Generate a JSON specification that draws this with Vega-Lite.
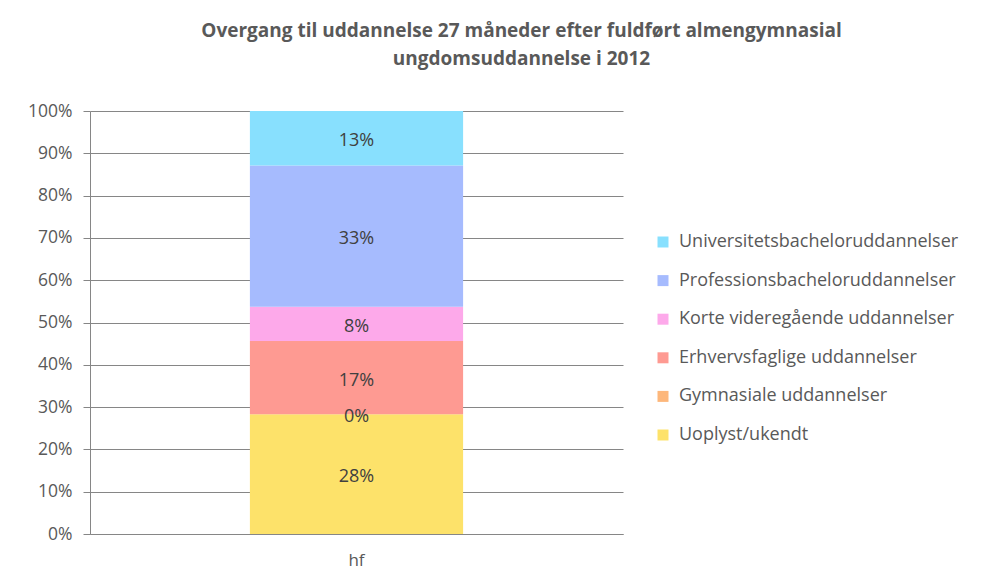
{
  "$schema": "https://vega.github.io/schema/vega-lite/v6.json",
  "autosize": "none",
  "width": 533,
  "height": 423,
  "padding": {"left": 90, "top": 111, "right": 360, "bottom": 49},
  "background": "white",
  "title": {
    "text": ["Overgang til uddannelse 27 måneder efter fuldført  almengymnasial", "ungdomsuddannelse i 2012"],
    "anchor": "middle",
    "frame": "group",
    "dx": 165,
    "offset": 33,
    "font": "Open Sans",
    "fontSize": 19,
    "fontWeight": "bold",
    "color": "#595959",
    "lineHeight": 28
  },
  "data": {
    "values": [
      {"uddannelse": "hf", "kategori": "Uoplyst/ukendt", "rank": 1, "andel": 0.283},
      {"uddannelse": "hf", "kategori": "Gymnasiale uddannelser", "rank": 2, "andel": 0.0},
      {"uddannelse": "hf", "kategori": "Erhvervsfaglige uddannelser", "rank": 3, "andel": 0.173},
      {"uddannelse": "hf", "kategori": "Korte videregående uddannelser", "rank": 4, "andel": 0.081},
      {"uddannelse": "hf", "kategori": "Professionsbacheloruddannelser", "rank": 5, "andel": 0.334},
      {"uddannelse": "hf", "kategori": "Universitetsbacheloruddannelser", "rank": 6, "andel": 0.129}
    ]
  },
  "encoding": {
    "x": {
      "field": "uddannelse",
      "type": "nominal",
      "title": null,
      "scale": {"paddingInner": 0, "paddingOuter": 0.75},
      "axis": {
        "labelAngle": 0,
        "labelFont": "Open Sans",
        "labelFontSize": 17,
        "labelColor": "#595959",
        "ticks": false,
        "labelPadding": 18,
        "domainColor": "#868686",
        "domainWidth": 1
      }
    }
  },
  "layer": [
    {
      "mark": {"type": "bar", "stroke": null},
      "encoding": {
        "y": {
          "field": "andel",
          "type": "quantitative",
          "stack": "zero",
          "title": null,
          "scale": {"domain": [0, 1], "nice": false},
          "axis": {
            "values": [0, 0.1, 0.2, 0.3, 0.4, 0.5, 0.6, 0.7, 0.8, 0.9, 1],
            "format": ".0%",
            "labelFont": "Open Sans",
            "labelFontSize": 17.5,
            "labelColor": "#595959",
            "labelPadding": 11,
            "tickSize": 7,
            "tickColor": "#868686",
            "gridColor": "#868686",
            "gridWidth": 1,
            "domainColor": "#868686"
          }
        },
        "color": {
          "field": "kategori",
          "type": "nominal",
          "title": null,
          "scale": {
            "domain": ["Universitetsbacheloruddannelser", "Professionsbacheloruddannelser", "Korte videregående uddannelser", "Erhvervsfaglige uddannelser", "Gymnasiale uddannelser", "Uoplyst/ukendt"],
            "range": ["#88E0FE", "#A6BBFE", "#FDA9EA", "#FE9A92", "#FDB77B", "#FDE26A"]
          },
          "legend": {
            "orient": "none",
            "legendX": 564,
            "legendY": 122,
            "symbolType": "square",
            "symbolSize": 121,
            "symbolStrokeWidth": 0,
            "labelFont": "Open Sans",
            "labelFontSize": 18,
            "labelColor": "#595959",
            "rowPadding": 20.6,
            "labelOffset": 7,
            "labelLimit": 400
          }
        },
        "order": {"field": "rank", "type": "quantitative"}
      }
    },
    {
      "transform": [
        {"stack": "andel", "groupby": ["uddannelse"], "sort": [{"field": "rank", "order": "ascending"}], "as": ["a0", "a1"]},
        {"calculate": "(datum.a0 + datum.a1) / 2", "as": "midt"}
      ],
      "mark": {"type": "text", "font": "Open Sans", "fontSize": 18, "color": "#404040", "dy": 3},
      "encoding": {
        "y": {"field": "midt", "type": "quantitative"},
        "text": {"field": "andel", "type": "quantitative", "format": ".0%"}
      }
    }
  ],
  "config": {"view": {"stroke": null}}
}
